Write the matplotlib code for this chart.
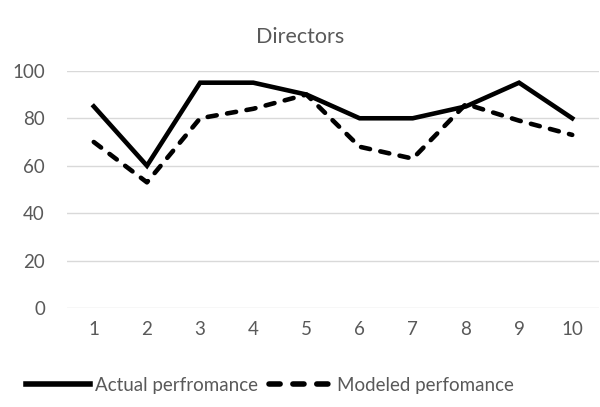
import matplotlib
matplotlib.use("Agg")
import matplotlib.pyplot as plt

# director scores, actual vs modeled
directors = [1, 2, 3, 4, 5, 6, 7, 8, 9, 10]
actual = [85, 60, 95, 95, 90, 80, 80, 85, 95, 80]
modeled = [70, 53, 80, 84, 90, 68, 63, 86, 79, 73]
yticks = [0, 20, 40, 60, 80, 100]

plt.rcParams['font.family'] = ['Lato', 'DejaVu Sans']
grey = '#595959'

fig = plt.figure(figsize=(6, 4.07), dpi=100)
ax = fig.add_axes([0.112, 0.243, 0.886, 0.583])

ax.plot(directors, actual, color='black', lw=3.3, solid_joinstyle='miter',
        label='Actual perfromance')
ax.plot(directors, modeled, color='black', lw=3.3, linestyle=(0, (2, 2.3)),
        dash_capstyle='round', label='Modeled perfomance')

ax.set_xlim(0.5, 10.5)
ax.set_ylim(0, 100)
ax.set_xticks(directors)
ax.set_yticks(yticks)
ax.grid(axis='y', color='#d9d9d9', lw=1)
ax.set_axisbelow(True)
for s in ax.spines.values():
    s.set_visible(False)
ax.tick_params(length=0, labelsize=13.5, labelcolor=grey)
ax.tick_params(axis='x', pad=9)
ax.tick_params(axis='y', pad=16)

fig.suptitle('Directors', fontsize=15.5, color=grey, x=0.5, y=0.908, va='center')

leg = fig.legend(loc='lower left', bbox_to_anchor=(0.022, 0.0), ncol=2, frameon=False,
                 fontsize=13.5, labelcolor=grey, handlelength=3.4, handletextpad=0.25,
                 columnspacing=0.6, borderaxespad=0.3)
for h in leg.legend_handles:
    h.set_linewidth(4)

fig.savefig('out.png', dpi=100)
